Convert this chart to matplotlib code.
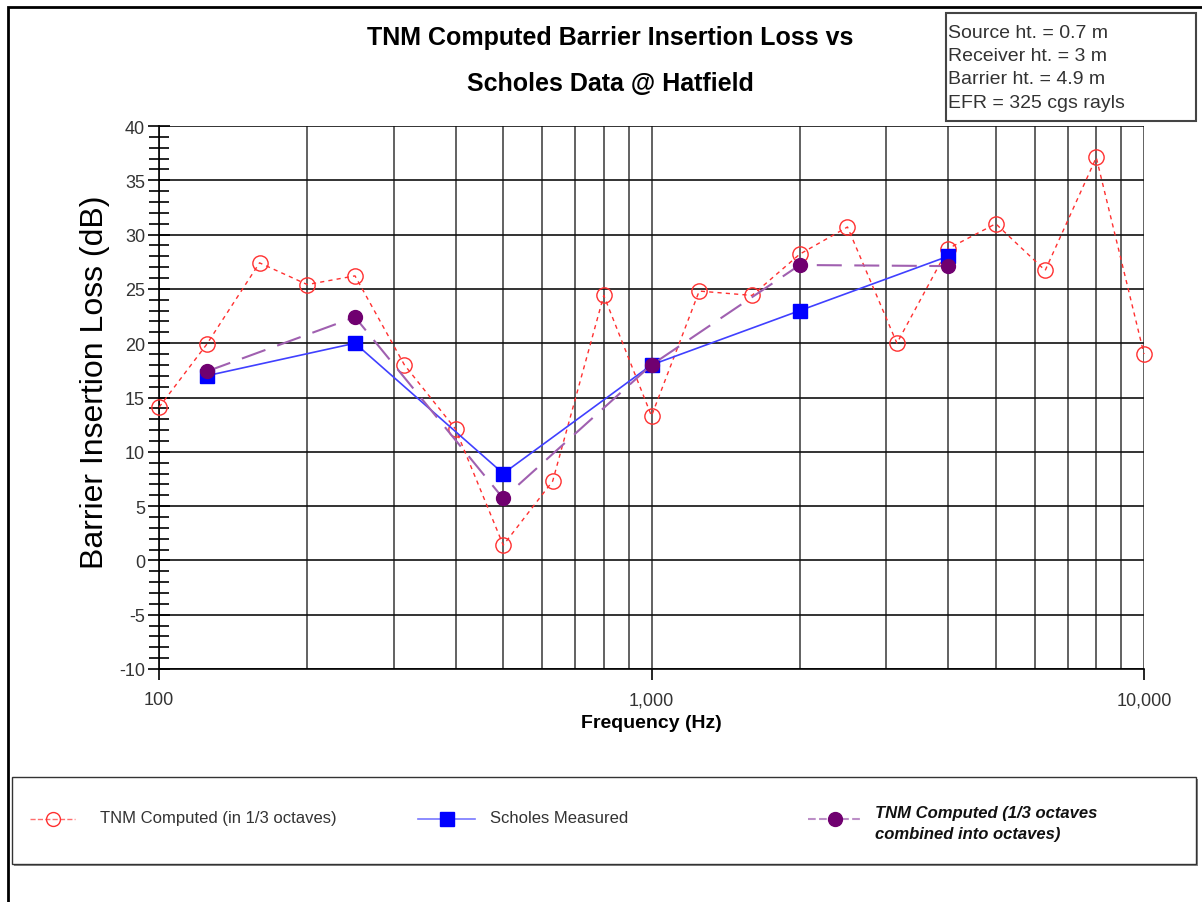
import matplotlib
matplotlib.use('Agg')
import matplotlib.pyplot as plt
from matplotlib.patches import Rectangle
from matplotlib.ticker import FixedLocator, MultipleLocator, NullFormatter

plt.rcParams['font.family'] = ['Liberation Sans', 'DejaVu Sans']
plt.rcParams['axes.unicode_minus'] = False

# 1/3-octave band centres and TNM values
third_freq = [100, 125, 160, 200, 250, 315, 400, 500, 630, 800, 1000,
              1250, 1600, 2000, 2500, 3150, 4000, 5000, 6300, 8000, 10000]
tnm_third = [14.1, 19.9, 27.4, 25.4, 26.2, 18.0, 12.1, 1.4, 7.3, 24.4, 13.3,
             24.8, 24.4, 28.2, 30.7, 20.0, 28.7, 31.0, 26.7, 37.1, 19.0]

# octave band centres
oct_freq = [125, 250, 500, 1000, 2000, 4000]
scholes = [17.0, 20.0, 8.0, 18.0, 23.0, 28.0]
tnm_oct = [17.4, 22.4, 5.7, 18.0, 27.2, 27.1]

labels = ['TNM Computed (in 1/3 octaves)', 'Scholes Measured',
          'TNM Computed (1/3 octaves\ncombined into octaves)']
info = ['Source ht. = 0.7 m', 'Receiver ht. = 3 m',
        'Barrier ht. = 4.9 m', 'EFR = 325 cgs rayls']

W, H = 1202, 903
fig = plt.figure(figsize=(W / 100, H / 100), dpi=100)

def fx(px):
    return px / W

def fy(py):
    return 1 - py / H

ax = fig.add_axes([fx(159), fy(670), fx(1144) - fx(159), fy(127) - fy(670)])

red, = ax.plot(third_freq, tnm_third, color='#ff3030', linestyle=(0, (3, 3)),
               linewidth=1.0, marker='o', markersize=11, markerfacecolor='none',
               markeredgecolor='#ff3030', markeredgewidth=1.0, zorder=4,
               clip_on=False)
blue, = ax.plot(oct_freq, scholes, color='#4040ff', linewidth=1.2,
                marker='s', markersize=10, markerfacecolor='#0000ff',
                markeredgecolor='#0000ff', zorder=5)
purp, = ax.plot(oct_freq, tnm_oct, color='#a060b0', linewidth=1.5,
                linestyle=(0, (12, 6)), marker='o', markersize=10,
                markerfacecolor='#700070', markeredgecolor='#700070', zorder=6)

ax.set_xscale('log')
ax.set_xlim(100, 10000)
ax.set_ylim(-10, 40)

# grid
grid_x = [m * 10 ** e for e in (2, 3) for m in range(1, 10)] + [10000]
for g in grid_x:
    ax.axvline(g, color='#555555', linewidth=1.3, zorder=1)
for v in range(-10, 41, 5):
    ax.axhline(v, color='#111111', linewidth=1.2, zorder=1)

ax.xaxis.set_major_locator(FixedLocator([100, 1000, 10000]))
ax.xaxis.set_minor_locator(FixedLocator([]))
ax.xaxis.set_minor_formatter(NullFormatter())
ax.set_xticklabels(['100', '1,000', '10,000'])
ax.yaxis.set_major_locator(MultipleLocator(5))
ax.yaxis.set_minor_locator(MultipleLocator(1))
ax.tick_params(axis='y', which='major', direction='inout', length=16, width=1.2,
               labelsize=13, labelcolor='#333333', pad=2)
ax.tick_params(axis='y', which='minor', direction='inout', length=14, width=1.2)
ax.tick_params(axis='x', which='major', direction='out', length=8, width=1.2,
               labelsize=13, labelcolor='#333333', pad=8)
for s in ['top', 'right']:
    ax.spines[s].set_visible(False)
ax.spines['left'].set_linewidth(1.2)
ax.spines['bottom'].set_linewidth(1.2)

ax.set_xlabel('Frequency (Hz)', fontsize=14, fontweight='bold', labelpad=4)
ax.set_ylabel('Barrier Insertion Loss (dB)', fontsize=23)
ax.yaxis.set_label_coords(-0.05, 0.53)

fig.text(fx(610), fy(38), 'TNM Computed Barrier Insertion Loss vs', ha='center',
         va='center', fontsize=18, fontweight='bold')
fig.text(fx(610), fy(84), 'Scholes Data @ Hatfield', ha='center',
         va='center', fontsize=18, fontweight='bold')

# info box
fig.patches.append(Rectangle((fx(946), fy(122)), fx(1196) - fx(946), fy(14) - fy(122),
                             transform=fig.transFigure, facecolor='white',
                             edgecolor='#444444', linewidth=1.5))
for i, t in enumerate(info):
    fig.text(fx(948), fy(33 + i * 23.5), t, ha='left', va='center',
             fontsize=14, color='#333333')

# outer frame (left and top edges only visible)
fig.patches.append(Rectangle((fx(8), -0.1), 1.2, fy(8) + 0.1,
                             transform=fig.transFigure, facecolor='none',
                             edgecolor='black', linewidth=2.0))

# legend box with shadow
fig.patches.append(Rectangle((fx(14), fy(867)), fx(1198) - fx(14), fy(780) - fy(867),
                             transform=fig.transFigure, facecolor='#888888',
                             edgecolor='none'))
fig.patches.append(Rectangle((fx(12), fy(865)), fx(1196) - fx(12), fy(778) - fy(865),
                             transform=fig.transFigure, facecolor='white',
                             edgecolor='#333333', linewidth=1.0))

lax = fig.add_axes([0, 0, 1, 1], facecolor='none', zorder=10)
lax.set_xlim(0, W)
lax.set_ylim(H, 0)
lax.axis('off')
handles = [red, blue, purp]
hx = [(30, 75), (418, 475), (808, 862)]
tx = [100, 490, 875]
for h, (x0, x1) in zip(handles, hx):
    lax.plot([x0, x1], [820, 820], color=h.get_color(), linestyle=h.get_linestyle(),
             linewidth=h.get_linewidth(), alpha=0.7)
    lax.plot([(x0 + x1) / 2], [820], marker=h.get_marker(), markersize=10,
             markerfacecolor=h.get_markerfacecolor(),
             markeredgecolor=h.get_markeredgecolor(), linestyle='none')
for t, lab in zip(tx[:2], labels[:2]):
    lax.text(t, 819, lab, ha='left', va='center', fontsize=12, color='#333333')
lax.text(tx[2], 824, labels[2], ha='left', va='center', fontsize=12,
         fontweight='bold', fontstyle='italic', color='#111111', linespacing=1.5)

fig.savefig('out.png', dpi=100)
